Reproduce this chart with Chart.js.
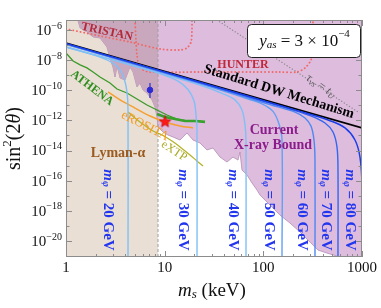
<!DOCTYPE html>
<html>
<head>
<meta charset="utf-8">
<script src="https://cdn.jsdelivr.net/npm/chart.js@4.4.1/dist/chart.umd.min.js"></script>
<style>
  html, body { margin: 0; padding: 0; background: #fff; }
</style>
</head>
<body>
<canvas id="boundsChart" width="381" height="308"></canvas>
<script>
// Sterile neutrino bounds - sin^2(2theta) vs m_s, drawn with Chart.js
// y values are stored as log10(sin^2 2theta), x values in keV

const SERIF = '"Liberation Serif", "DejaVu Serif", serif';

const xTickValues = [1, 10, 100, 1000];
const xTickLabels = ['1', '10', '100', '1000'];
const yTickExps = [-20, -18, -16, -14, -12, -10, -8, -6];
const yMin = -21.06;
const yMax = -5.34;

const lymanEdge = 8.56;

// current X-ray bound (lower edge of the excluded region)
const xrayM = [1.32, 1.39, 1.63, 1.88, 2.21, 2.60, 2.79, 2.99, 3.14, 3.29, 3.37, 3.53, 3.96, 4.45, 4.78, 5.24, 5.62, 6.03, 6.62, 7.44, 7.98, 8.36, 8.56, 9.62, 10.81, 12.15, 14.30, 16.84, 19.37, 22.81, 26.85, 30.89, 36.37, 42.82, 49.27, 55.37, 58.0, 60.77, 68.31, 76.77, 86.28, 92.51, 116.8, 147.5, 186.3, 235.2, 297.2, 358.1, 441.8, 598.4, 1000];
const xrayS = [-5.34, -5.87, -6.13, -6.46, -6.53, -7.13, -7.86, -8.46, -9.12, -8.46, -8.65, -9.19, -9.32, -8.46, -8.79, -9.78, -9.52, -9.98, -10.18, -10.64, -11.11, -11.77, -12.44, -12.77, -12.97, -13.10, -13.30, -12.83, -13.30, -13.50, -13.96, -13.83, -14.43, -14.76, -14.43, -14.63, -14.10, -15.29, -15.62, -16.15, -16.62, -16.95, -17.61, -18.28, -18.81, -19.40, -20.07, -20.60, -20.80, -21.06, -21.06];

// standard DW mechanism
const dwM = [1, 31.6, 1000];
const dwS = [-6.86, -9.68, -12.50];

// y_as = 3e-4 curves for each m_phi
const phiMasses = [20, 30, 40, 50, 60, 70, 80];
const phi20M = [1, 2.21, 2.99, 3.53, 3.87, 4.15, 4.25, 4.25];
const phi20S = [-7.14, -7.80, -8.20, -8.65, -9.19, -10.11, -11.31, -21.06];
const phi30M = [1, 3.53, 8.97, 13.65, 17.24, 19.83, 20.77, 21.27, 21.27];
const phi30S = [-7.13, -8.12, -8.90, -9.40, -9.95, -10.70, -11.64, -12.64, -21.06];
const phi40M = [1, 7.10, 22.81, 38.10, 51.62, 60.77, 65.19, 66.73, 66.73];
const phi40S = [-7.12, -8.68, -9.65, -10.20, -10.64, -11.31, -12.30, -13.30, -21.06];
const phi50M = [1, 22.81, 65.19, 96.91, 125.3, 144.1, 154.6, 154.6];
const phi50S = [-6.96, -9.55, -10.52, -10.90, -11.40, -12.24, -13.30, -21.06];
const phi60M = [1, 22.81, 116.8, 209.4, 264.4, 304.1, 326.1, 333.8, 333.8];
const phi60S = [-6.94, -9.52, -10.95, -11.45, -11.84, -12.37, -13.30, -14.63, -21.06];
const phi70M = [1, 22.81, 147.5, 297.2, 421.6, 508.2, 557.7, 570.9, 570.9];
const phi70S = [-6.92, -9.49, -11.05, -11.68, -12.17, -12.77, -13.76, -15.29, -21.06];
const phi80M = [1, 22.81, 235.2, 473.8, 672.6, 849.2, 954.1, 1000, 1000];
const phi80S = [-6.90, -9.47, -11.40, -12.02, -12.50, -13.30, -14.43, -16.29, -21.06];

// projected sensitivities
const athenaM = [1, 1.18, 1.39, 1.63, 1.88, 2.21, 2.79, 3.29, 4.15, 5.24, 6.62, 8.36, 10.56, 13.34, 16.84, 21.27, 25.63];
const athenaS = [-7.53, -8.06, -8.32, -8.52, -8.79, -9.12, -9.52, -9.92, -10.18, -10.58, -10.98, -11.31, -11.64, -11.91, -12.04, -12.04, -12.10];
const bandM = [8.36, 10.08, 12.72, 16.07, 20.3, 25.63];
const bandS = [-11.57, -11.77, -11.91, -12.04, -12.04, -12.10];
const erositaM = [2.67, 3.53, 5.00, 7.10, 10.08, 14.30, 19.37];
const erositaS = [-10.11, -10.64, -11.18, -11.71, -12.10, -12.37, -12.50];
const extpM = [4.25, 5.62, 7.62, 9.40, 11.87, 14.30, 18.06, 21.27, 24.46];
const extpS = [-11.44, -12.10, -12.70, -12.97, -13.37, -13.76, -14.29, -14.69, -15.02];

const tristanM = [1, 2.21, 4.45, 8.97, 14.30, 16.84, 18.49, 18.92, 18.92];
const tristanS = [-5.93, -6.40, -6.80, -7.26, -7.33, -7.19, -6.80, -6.0, -5.34];
const hunterM = [5.0, 5.12, 5.24, 5.49, 6.03, 7.10, 22.81, 147.5, 219.4, 264.4, 304.1, 318.6, 318.6, 318.6];
const hunterS = [-5.34, -6.66, -7.66, -8.32, -8.65, -8.79, -8.79, -8.79, -8.79, -8.52, -7.99, -7.19, -6.33, -5.34];
const tauM = [33.91, 910.8];
const tauS = [-5.34, -11.44];

// single measurements
const blueM = [7.10];
const blueS = [-9.98];
const blueErr = [-10.51, -9.52];
const starM = [10.08];
const starS = [-12.10];

const pts = (xs, ys) => xs.map((v, i) => ({ x: v, y: ys[i] }));

function line(data, color, width, extra) {
    return Object.assign({
        data: data,
        borderColor: color,
        borderWidth: width,
        pointRadius: 0,
        fill: false,
        tension: 0
    }, extra || {});
}

function makeStar(size, fill, stroke) {
    const c = document.createElement('canvas');
    c.width = c.height = size;
    const g = c.getContext('2d');
    const R = size / 2 - 0.5, r = R * 0.45;
    g.beginPath();
    for (let i = 0; i < 10; i++) {
        const a = -Math.PI / 2 + i * Math.PI / 5;
        const rad = i % 2 ? r : R;
        g.lineTo(size / 2 + rad * Math.cos(a), size / 2 + rad * Math.sin(a));
    }
    g.closePath();
    g.fillStyle = fill;
    g.fill();
    g.strokeStyle = stroke;
    g.lineWidth = 0.7;
    g.stroke();
    return c;
}

const dotted = { borderDash: [0.1, 3.6], borderCapStyle: 'round' };
const curve = { tension: 0.35 };

// first dataset is drawn on top
const datasets = [
    { data: pts(starM, starS), pointStyle: makeStar(13, '#ff1a1a', '#c00000'), pointRadius: 6, showLine: false },
    { data: pts(blueM, blueS), pointRadius: 2.8, backgroundColor: '#2b2bd6', borderColor: '#2b2bd6', showLine: false },
    line(pts([blueM[0], blueM[0]], blueErr), '#2b2bd6', 1.2),
    line(pts(phi80M, phi80S), '#1a3ee8', 1.5, curve),
    line(pts(phi70M, phi70S), '#3466f0', 1.4, curve),
    line(pts(phi60M, phi60S), '#4d87f3', 1.4, curve),
    line(pts(phi50M, phi50S), '#62a0f5', 1.4, curve),
    line(pts(phi40M, phi40S), '#80c0f6', 1.4, curve),
    line(pts(phi30M, phi30S), '#80c0f6', 1.4, curve),
    line(pts(phi20M, phi20S), '#80c0f6', 1.4, curve),
    line(pts(bandM, bandS), '#38a22c', 2.6),
    line(pts(athenaM, athenaS), '#3b9a2a', 1.3),
    line(pts(erositaM, erositaS), '#f5a030', 1.5, curve),
    line(pts(extpM, extpS), '#b5b32a', 1.3, curve),
    line(pts(dwM, dwS), '#000000', 1.6),
    line(pts(tristanM, tristanS), '#f06a6a', 1.9, Object.assign({ tension: 0.3 }, dotted)),
    line(pts(hunterM, hunterS), '#f06a6a', 1.9, Object.assign({ tension: 0.3 }, dotted)),
    line(pts(tauM, tauS), '#8a8a8a', 1.3, { borderDash: [0.1, 3], borderCapStyle: 'round' }),
    line(pts([lymanEdge, lymanEdge], [yMin, yMax]), '#a0a0a0', 1, { borderDash: [3, 2] }),
    // overlap of X-ray bound and Lyman-alpha
    line(pts(xrayM, xrayS).filter(p => p.x <= lymanEdge), 'rgba(0,0,0,0)', 1,
        { fill: 'end', backgroundColor: '#c9a7bd' }),
    line(pts(xrayM, xrayS), '#b48cb4', 0.8, { fill: 'end', backgroundColor: '#ddbcdd' }),
    line(pts([1, lymanEdge], [yMax, yMax]), 'rgba(0,0,0,0)', 1,
        { fill: 'start', backgroundColor: '#e9dfd4' })
];

// text labels, anchored in data coordinates
const labels = [
    { m: 2.60, s: -6.13, rot: 12, color: '#b5283a', parts: [{ t: 'TRISTAN', f: 'bold 12px' }] },
    { m: 62.2, s: -8.32, rot: 0, color: '#c0283a', parts: [{ t: 'HUNTER', f: 'bold 12px' }] },
    { m: 144.1, s: -10.10, rot: 17, color: '#000', parts: [{ t: 'Standard DW Mechanism', f: 'bold 14px' }] },
    { m: 128.3, s: -12.64, rot: 0, color: '#8c1c8c', parts: [{ t: 'Current', f: 'bold 14px' }] },
    { m: 125.3, s: -13.63, rot: 0, color: '#8c1c8c', parts: [{ t: 'X-ray Bound', f: 'bold 14px' }] },
    { m: 3.37, s: -14.16, rot: 0, color: '#9b5b1f', parts: [{ t: 'Lyman-α', f: 'bold 14px' }] },
    { m: 1.83, s: -9.85, rot: 37, color: '#2f8f1f', parts: [{ t: 'ATHENA', f: 'bold 12px' }] },
    { m: 6.32, s: -12.37, rot: 27, color: '#f59a23', parts: [{ t: 'eROSITA', f: '13px' }] },
    { m: 12.43, s: -14.03, rot: 33, color: '#a9a922', parts: [{ t: 'eXTP', f: '12px' }] },
    { m: 384, s: -9.72, rot: 34, color: '#555', parts: [
        { t: 'τ', f: 'italic 12px' }, { t: 'vs', f: 'italic 8px', dy: 3 },
        { t: ' = ', f: '12px' }, { t: 't', f: 'italic 12px' }, { t: 'U', f: 'italic 8px', dy: 3 }] }
];
const phiLabelM = [2.67, 15.34, 49.27, 114.1, 246.6, 431.5, 755.7];
phiMasses.forEach((mp, i) => {
    labels.push({ m: phiLabelM[i], s: -17.94, rot: 90, color: '#2336ef', parts: [
        { t: 'm', f: 'italic bold 15px' }, { t: 'φ', f: 'italic bold 10px', dy: 3 },
        { t: ' = ' + mp + ' GeV', f: 'bold 15px' }] });
});

function drawRich(ctx, parts, cx, cy, angle, color, align) {
    ctx.save();
    ctx.translate(cx, cy);
    ctx.rotate(angle * Math.PI / 180);
    ctx.fillStyle = color;
    ctx.textBaseline = 'middle';
    ctx.textAlign = 'left';
    let total = 0;
    parts.forEach(p => {
        ctx.font = p.f + ' ' + SERIF;
        p.w = ctx.measureText(p.t).width;
        total += p.w;
    });
    let x0 = align === 'right' ? -total : -total / 2;
    parts.forEach(p => {
        ctx.font = p.f + ' ' + SERIF;
        ctx.fillText(p.t, x0, p.dy || 0);
        x0 += p.w;
    });
    ctx.restore();
}

/**
 * Frame, inside ticks, tick labels, axis titles and annotations
 */
const decorPlugin = {
    id: 'decor',
    afterDatasetsDraw(chart) {
        const { ctx, chartArea: a, scales: { x, y } } = chart;
        ctx.save();
        ctx.strokeStyle = '#8c8c8c';
        ctx.lineWidth = 1;
        ctx.strokeRect(a.left + 0.5, a.top + 0.5, a.right - a.left - 1, a.bottom - a.top - 1);

        ctx.beginPath();
        for (let d = 1; d < 1000; d *= 10) {
            for (let k = 1; k <= 10; k++) {
                const px = Math.round(x.getPixelForValue(d * k)) + 0.5;
                const len = k === 1 || k === 10 ? 6 : 3;
                ctx.moveTo(px, a.bottom); ctx.lineTo(px, a.bottom - len);
                ctx.moveTo(px, a.top); ctx.lineTo(px, a.top + len);
            }
        }
        for (let e = -21; e <= -6; e++) {
            const py = Math.round(y.getPixelForValue(e)) + 0.5;
            const len = e % 2 === 0 ? 6 : 3.5;
            ctx.moveTo(a.left, py); ctx.lineTo(a.left + len, py);
            ctx.moveTo(a.right, py); ctx.lineTo(a.right - len, py);
        }
        ctx.stroke();

        // tick labels
        ctx.fillStyle = '#111';
        ctx.textAlign = 'center';
        ctx.textBaseline = 'middle';
        ctx.font = '15px ' + SERIF;
        xTickValues.forEach((v, i) => {
            ctx.fillText(xTickLabels[i], x.getPixelForValue(v), a.bottom + 11);
        });
        yTickExps.forEach(e => {
            drawRich(ctx, [{ t: '10', f: '15px' }, { t: '−' + Math.abs(e), f: '10px', dy: -5 }],
                a.left - 4, y.getPixelForValue(e) + 1, 0, '#111', 'right');
        });

        // axis titles
        drawRich(ctx, [{ t: 'm', f: 'italic 19px' }, { t: 's', f: 'italic 13px', dy: 4 }, { t: ' (keV)', f: '19px' }],
            (a.left + a.right) / 2 - 2, a.bottom + 34, 0, '#111');
        drawRich(ctx, [{ t: 'sin', f: '20px' }, { t: '2', f: '13px', dy: -7 }, { t: '(2', f: '20px' },
            { t: 'θ', f: 'italic 20px' }, { t: ')', f: '20px' }],
            a.left - 51, (a.top + a.bottom) / 2, -90, '#111');

        // annotations
        labels.forEach(l => {
            drawRich(ctx, l.parts, x.getPixelForValue(l.m), y.getPixelForValue(l.s), l.rot, l.color);
        });

        // y_as legend box
        const bw = 113, bh = 33, bx = a.right - 2 - bw, by = a.top + 4;
        ctx.beginPath();
        ctx.roundRect(bx + 0.5, by + 0.5, bw, bh, 4);
        ctx.fillStyle = '#fff';
        ctx.fill();
        ctx.strokeStyle = '#222';
        ctx.stroke();
        drawRich(ctx, [{ t: 'y', f: 'italic 17px' }, { t: 'as', f: 'italic 11px', dy: 4 },
            { t: ' = 3 × 10', f: '17px' }, { t: '−4', f: '11px', dy: -7 }],
            bx + bw / 2 + 1, by + bh / 2 + 1, 0, '#111');
        ctx.restore();
    }
};

new Chart(document.getElementById('boundsChart').getContext('2d'), {
    type: 'line',
    data: { datasets: datasets },
    options: {
        responsive: false,
        animation: false,
        devicePixelRatio: 1,
        layout: { padding: { top: 20, right: 19, bottom: 0, left: 0 } },
        plugins: {
            legend: { display: false },
            tooltip: { enabled: false }
        },
        scales: {
            x: {
                type: 'logarithmic',
                min: 1,
                max: 1000,
                ticks: { display: false },
                grid: { display: false },
                border: { display: false },
                afterFit: s => { s.height = 51; }
            },
            y: {
                type: 'linear',
                min: yMin,
                max: yMax,
                ticks: { display: false },
                grid: { display: false },
                border: { display: false },
                afterFit: s => { s.width = 66; }
            }
        }
    },
    plugins: [decorPlugin]
});
</script>
</body>
</html>
